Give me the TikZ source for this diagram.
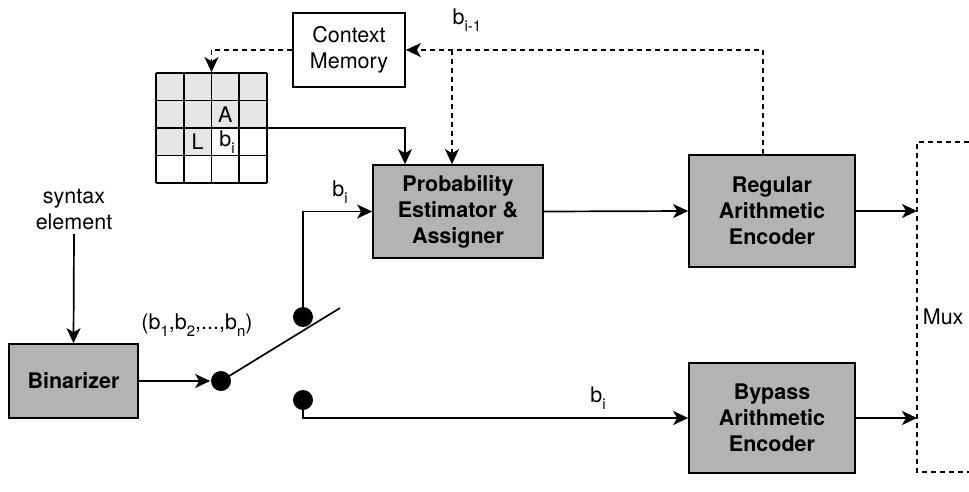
\documentclass[tikz,border=0pt]{standalone}
\usepackage{fontspec}
\setmainfont{TeX Gyre Heros}
\usetikzlibrary{arrows.meta}
\definecolor{boxgray}{HTML}{B3B3B3}
\definecolor{cellgray}{HTML}{E6E6E6}
% subscript index set in a smaller size
\newcommand{\lowidx}[1]{\raisebox{-0.32em}{\fontsize{15}{15}\selectfont #1}}
\begin{document}
\begin{tikzpicture}[x=1pt,y=-1pt,
  line width=1.7pt,
  txt/.style={font=\fontsize{21.5}{26}\selectfont, align=center, inner sep=0pt},
  block/.style={draw, fill=boxgray, font=\bfseries\fontsize{21.5}{26}\selectfont,
                align=center, inner sep=0pt},
  plainbox/.style={draw, fill=white, font=\fontsize{21.5}{26}\selectfont,
                   align=center, inner sep=0pt},
  dot/.style={circle, fill=black, minimum size=20pt, inner sep=0pt},
  arr/.style={-{Stealth[length=15pt,width=14pt,inset=4pt]}},
  dsh/.style={dash pattern=on 5pt off 4pt}
]
\useasboundingbox (0,0) rectangle (969,491);

% blocks
\node[plainbox, minimum width=112pt, minimum height=74pt] (cm) at (349,50) {Context\\Memory};
\node[block, minimum width=170pt, minimum height=93pt] (prob) at (458,211.5) {Probability\\Estimator \&\\Assigner};
\node[block, minimum width=166pt, minimum height=112pt] (rae) at (772,211) {Regular\\Arithmetic\\Encoder};
\node[block, minimum width=166pt, minimum height=110pt] (byp) at (772,418) {Bypass\\Arithmetic\\Encoder};
\node[block, minimum width=129pt, minimum height=74pt] (bin) at (73.5,381) {Binarizer};

% context grid
\node[minimum width=111pt, minimum height=110pt, inner sep=0pt] (grid) at (211.5,128) {};
\fill[cellgray] (156,73) rectangle (267,128);
\fill[cellgray] (156,128) rectangle (211.5,155.5);
\foreach \gx in {156,183.75,211.5,239.25,267} \draw (\gx,73) -- (\gx,183);
\foreach \gy in {73,100.5,128,155.5,183} \draw (156,\gy) -- (267,\gy);
\node[txt] (ca) at (225.4,114.3) {A};
\node[txt] (cl) at (197.6,141.8) {L};
\node[txt] (cb) at (227,141.8) {b\lowidx{i}};

% syntax element input
\node[txt] (syn) at (74,209) {syntax\\element};
\draw[arr] (syn.south) ++(0,4) coordinate (synbot) -- (bin.north);

% switch
\node[dot] (din) at (221,381) {};
\node[dot] (dup) at (303,317) {};
\node[dot] (dlo) at (303,400) {};
\coordinate (swend) at (340,308);
\draw[arr] (bin.east) -- (din.west);
\draw (din.center) -- (swend);
\node[txt] (seq) at (197,325) {(b\lowidx{1},b\lowidx{2},...,b\lowidx{n})};

% regular path
\draw[arr] (dup.center) |- (prob.west);
\node[txt] (lbup) at (340,192) {b\lowidx{i}};
\draw[arr] (prob.east) -- (rae.west);

% bypass path
\draw[arr] (dlo.center) |- (byp.west);
\node[txt] (lblo) at (598,398) {b\lowidx{i}};

% grid to estimator
\coordinate (pin) at ([xshift=-53pt]prob.north);
\draw[arr] (grid.east) -| (pin);

% feedback b_{i-1}
\coordinate (fb) at ([xshift=-9pt]rae.north);
\draw[arr, dsh] (fb) |- (cm.east);
\coordinate (br) at (452,50);
\draw[arr, dsh] (br) -- (br |- prob.north);
\draw[arr, dsh] (cm.west) -| (grid.north);
\node[txt] (lbprev) at (467,20) {b\lowidx{i-1}};

% multiplexer
\coordinate (muxtop) at (969,142);
\coordinate (muxtl) at (917,142);
\coordinate (muxbl) at (917,472);
\coordinate (muxbot) at (969,472);
\draw[dsh] (muxtop) -- (muxtl) -- (muxbl) -- (muxbot);
\node[txt, anchor=west] (mux) at (922,317) {Mux};
\draw[arr] (rae.east) -- (rae.east -| muxtl);
\draw[arr] (byp.east) -- (byp.east -| muxtl);
\end{tikzpicture}
\end{document}
